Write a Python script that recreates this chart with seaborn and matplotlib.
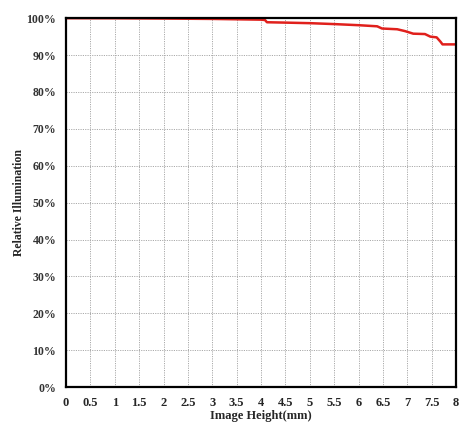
import matplotlib
matplotlib.use("Agg")
import matplotlib.pyplot as plt
import seaborn as sns
import numpy as np

image_height = [0.0, 1.0, 2.0, 3.0, 3.5, 4.0, 4.08, 4.12, 4.5, 5.0, 5.5, 6.0, 6.38, 6.48, 6.79, 6.95, 7.12, 7.36, 7.47, 7.6, 7.68, 7.72, 8.0]
rel_illum = [100.0, 99.98, 99.9, 99.8, 99.7, 99.6, 99.5, 98.9, 98.8, 98.65, 98.4, 98.1, 97.8, 97.2, 97.0, 96.5, 95.8, 95.7, 95.0, 94.8, 93.6, 92.9, 92.9]
x_ticks = [0, 0.5, 1, 1.5, 2, 2.5, 3, 3.5, 4, 4.5, 5, 5.5, 6, 6.5, 7, 7.5, 8]
y_ticks = [0, 10, 20, 30, 40, 50, 60, 70, 80, 90, 100]

sns.set_style("white")
plt.rcParams['font.family'] = ['Liberation Serif', 'DejaVu Serif']

fig = plt.figure(figsize=(4.65, 4.23), dpi=100)
ax = fig.add_axes([0.142, 0.085, 0.839, 0.872])
sns.lineplot(x=image_height, y=rel_illum, ax=ax, color="#e0201c", linewidth=1.8)
ax.set_xlim(0, 8)
ax.set_ylim(0, 100)
ax.set_xticks(x_ticks)
ax.set_xticklabels([f"{t:g}" for t in x_ticks], fontweight="bold", fontsize=9)
ax.set_yticks(y_ticks)
ax.set_yticklabels([f"{t}%" for t in y_ticks], fontweight="bold", fontsize=8.5, color="#333333")
ax.grid(True, color="#aaaaaa", linestyle=(0, (1.2, 1.2)), linewidth=0.7)
for s in ax.spines.values():
    s.set_color("black")
    s.set_linewidth(1.6)
ax.tick_params(axis="both", length=3, width=0.6, color="#aaaaaa", pad=4)
ax.set_xlabel("Image Height(mm)", fontweight="bold", fontsize=9, labelpad=1)
ax.set_ylabel("Relative Illumination", fontweight="bold", fontsize=8.5, labelpad=1)
fig.savefig("out.png", dpi=100)
